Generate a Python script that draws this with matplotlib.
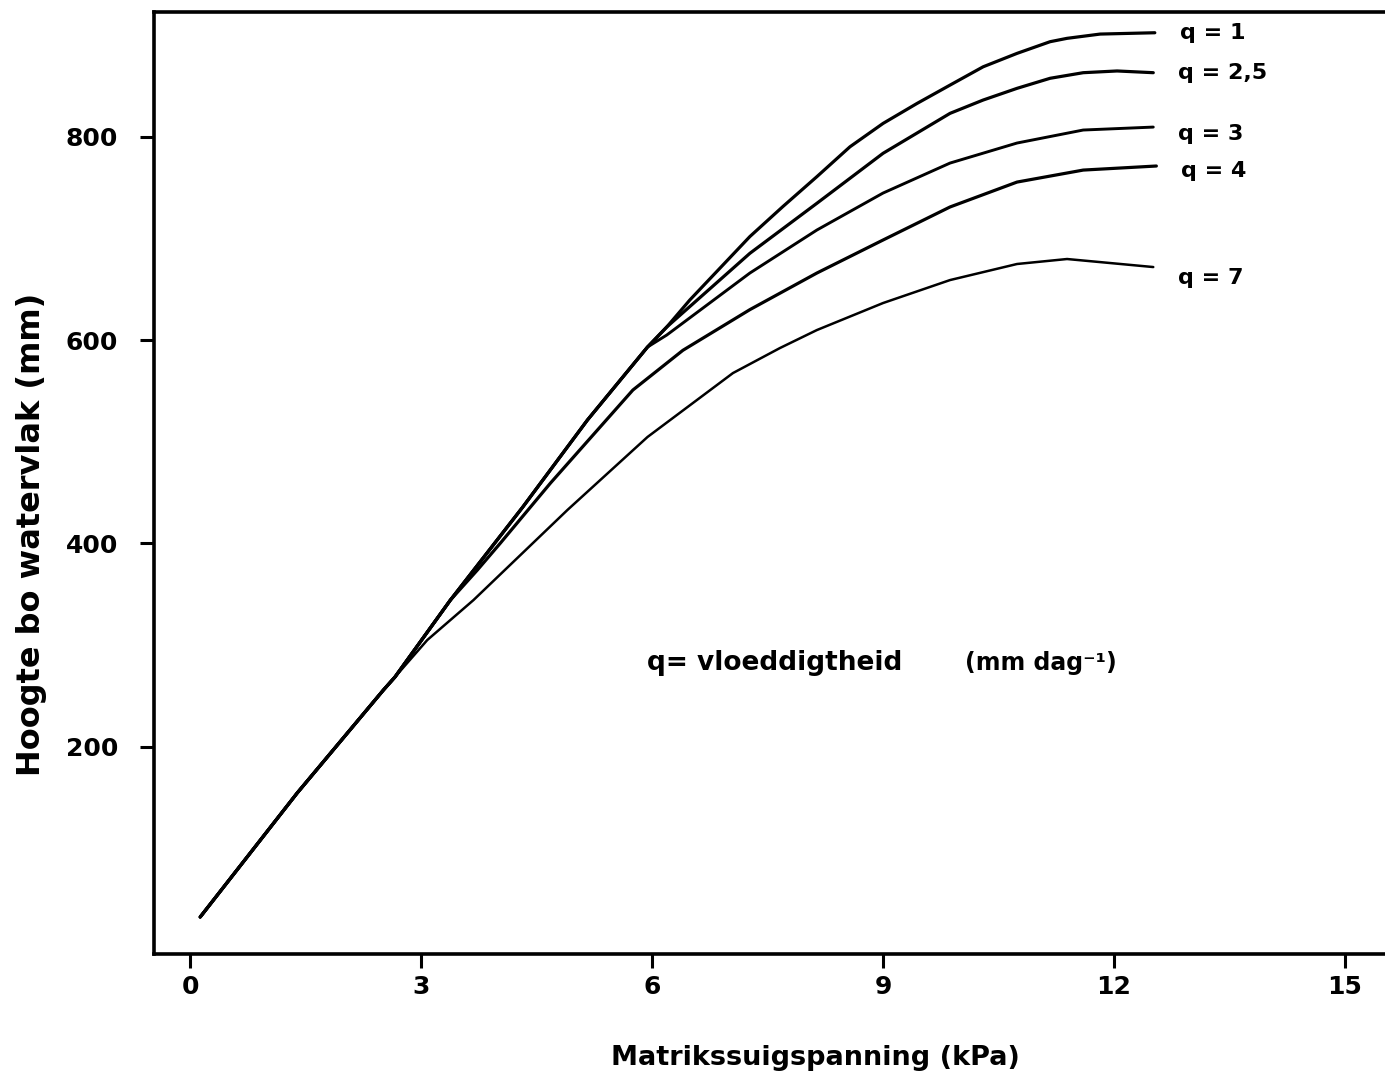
import numpy as np
import matplotlib
matplotlib.use("Agg")
import matplotlib.pyplot as plt

# ---- gemeenskaplike begin (alle krommes saam) ----
x_common = [0.13, 1.39, 2.51, 2.66]
y_common = [32.5, 154.5, 255.8, 268.6]

# bundel q = 1 / 2,5 / 3 tot ongeveer 6 kPa
x_bundle = [3.38, 4.32, 5.16, 5.94]
y_bundle = [344.3, 435.8, 521.4, 593.2]

x_q1 = [6.19, 6.49, 7.27, 7.70, 8.14, 8.57, 9.00, 9.44, 9.87, 10.30, 10.74, 11.17, 11.39, 11.82, 12.53]
y_q1 = [612.9, 639.5, 701.9, 731.5, 760.8, 790.2, 813.2, 832.8, 850.9, 868.9, 882.1, 893.6, 896.9, 901.1, 902.4]

x_q25 = [6.19, 7.27, 8.14, 9.00, 9.87, 10.30, 10.74, 11.17, 11.60, 12.04, 12.51]
y_q25 = [612.9, 685.4, 734.6, 783.8, 823.1, 836.2, 847.7, 857.6, 863.1, 864.8, 863.1]

x_q3 = [6.19, 7.27, 8.14, 9.00, 9.87, 10.74, 11.60, 12.51]
y_q3 = [605.0, 666.0, 708.3, 744.7, 774.2, 793.9, 806.7, 809.6]

x_q4 = [3.38, 3.73, 4.03, 4.68, 5.75, 6.40, 7.27, 8.14, 9.00, 9.87, 10.74, 11.60, 12.55]
y_q4 = [344.3, 373.8, 400.4, 459.4, 550.9, 590.0, 630.0, 666.0, 698.5, 731.0, 755.5, 767.3, 771.3]

x_q7 = [3.08, 3.68, 4.90, 5.94, 7.05, 7.66, 8.14, 9.00, 9.87, 10.74, 11.39, 12.51]
y_q7 = [305.0, 344.3, 432.9, 504.7, 567.6, 592.2, 609.9, 636.5, 659.1, 674.9, 679.8, 671.9]

labels = ["q = 1", "q = 2,5", "q = 3", "q = 4", "q = 7"]
xticks = [0, 3, 6, 9, 12, 15]
yticks = [200, 400, 600, 800]

# volledige krommes saamstel
curves = [
    (x_common + x_bundle + x_q1, y_common + y_bundle + y_q1, 2.3),
    (x_common + x_bundle + x_q25, y_common + y_bundle + y_q25, 2.3),
    (x_common + x_bundle + x_q3, y_common + y_bundle + y_q3, 2.1),
    (x_common + x_q4, y_common + y_q4, 2.3),
    (x_common + x_q7, y_common + y_q7, 1.8),
]
label_dy = [-0.5, -0.5, -5, -3.5, -8]   # punte, etiket hoogte tov kromme-einde

plt.rcParams['font.family'] = ['DejaVu Sans']
plt.rcParams['font.weight'] = 'bold'

fig = plt.figure(figsize=(13.85, 10.82), dpi=100)
ax = fig.add_axes([0.1112, 0.1183, 0.8888, 0.8706])

for (xs, ys, lw), lab, dy in zip(curves, labels, label_dy):
    ax.plot(xs, ys, color='black', lw=lw, solid_capstyle='round', solid_joinstyle='round')
    ax.annotate(lab, xy=(xs[-1], ys[-1]), xytext=(18, dy), textcoords='offset points',
                va='center', ha='left', fontsize=16, fontweight='bold')

ax.text(5.94, 282, "q= vloeddigtheid", fontsize=19, fontweight='bold', va='center')
ax.text(10.06, 282, "(mm dag\u207b\u00b9)", fontsize=17, fontweight='bold', va='center')

ax.set_xlim(-0.47, 15.52)
ax.set_ylim(-3.9, 922.8)
ax.set_xticks(xticks)
ax.set_yticks(yticks)
ax.tick_params(axis='both', direction='out', length=10, width=2.2, labelsize=18)
ax.tick_params(axis='x', pad=5)
ax.tick_params(axis='y', pad=16)
for t in ax.get_xticklabels() + ax.get_yticklabels():
    t.set_fontweight('bold')

for s in ['left', 'bottom', 'top']:
    ax.spines[s].set_linewidth(2.6)
ax.spines['right'].set_visible(False)

ax.set_xlabel("Matrikssuigspanning (kPa)", fontsize=19.5, fontweight='bold')
ax.set_ylabel("Hoogte bo watervlak (mm)", fontsize=23, fontweight='bold')
ax.xaxis.set_label_coords(0.537, -0.097)
ax.yaxis.set_label_coords(-0.087, 0.445)

fig.savefig('out.png', dpi=100)
